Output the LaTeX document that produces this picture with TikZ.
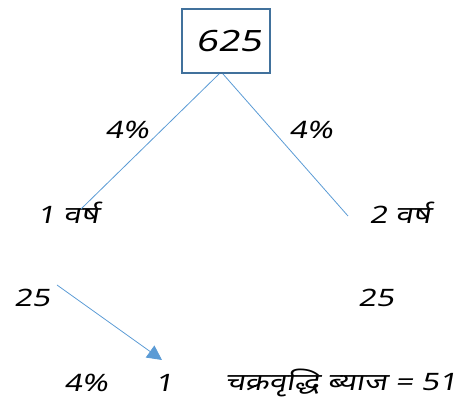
\documentclass[tikz,border=0pt]{standalone}
\usepackage{fontspec}
\setmainfont{Noto Sans}[Script=Devanagari,FakeSlant=0.18,FakeStretch=1.3]
\definecolor{boxblue}{HTML}{41719C}
\definecolor{lineblue}{HTML}{5B9BD5}
\usetikzlibrary{arrows.meta}
\begin{document}
\begin{tikzpicture}[x=0.75pt, y=-0.75pt,
    numbox/.style={draw=boxblue, line width=1.5pt, minimum width=66pt, minimum height=48pt, inner sep=0pt, font=\fontsize{22}{26}\selectfont},
    txt/.style={inner sep=0pt, font=\fontsize{18}{21}\selectfont},
    branch/.style={draw=lineblue, line width=0.6pt}]
    \useasboundingbox (0,0) rectangle (468,402);
    % Top: the principal in a box
    \node[numbox] (total) at (226,41) {\hspace{4pt}625};
    % Ends of the two branches
    \coordinate (lend) at (81,209);
    \coordinate (rend) at (348,216);
    \coordinate (ltop) at (219,74);
    \coordinate (rtop) at (223,74);
    % Rates on the branches
    \node[txt] (rate1) at (127,130) {4\%};
    \node[txt] (rate2) at (311,130) {4\%};
    % Years
    \node[txt] (year1) at (68,213) {1 वर्ष};
    \node[txt] (year2) at (400,213) {2 वर्ष};
    % Interest of each year
    \node[txt] (int1) at (32,298) {25};
    \node[txt] (int2) at (376,298) {25};
    % Bottom row
    \node[txt] (rate3) at (86,383) {4\%};
    \node[txt] (one) at (164,383) {1};
    \node[txt] (ci) at (341,383) {चक्रवृद्धि ब्याज = 51};
    \coordinate (astart) at (57,285);
    \coordinate (aend) at (162,360);
    % Branches
    \draw[branch] (ltop)--(lend) (rtop)--(rend);
    % Arrow
    \draw[branch, -{Triangle[length=11pt, width=11pt]}] (astart)--(aend);
\end{tikzpicture}
\end{document}
